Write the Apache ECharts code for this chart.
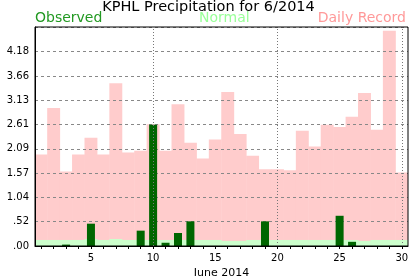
<!DOCTYPE html>
<html>
<head>
<meta charset="utf-8">
<script src="https://cdn.jsdelivr.net/npm/echarts@6/dist/echarts.min.js"></script>
<style>
html,body{margin:0;padding:0;background:#fff;}
#chart{width:417px;height:276px;}
</style>
</head>
<body>
<div id="chart"></div>
<script>
const days = Array.from({length: 30}, (_, i) => String(i + 1));
const observed = [0, 0, 0.03, 0, 0.48, 0, 0, 0, 0.33, 2.61, 0.07, 0.28, 0.53, 0, 0, 0, 0, 0, 0.53, 0, 0, 0, 0, 0, 0.65, 0.09, 0, 0, 0, 0];
const normal = [0.13, 0.13, 0.13, 0.13, 0.15, 0.13, 0.15, 0.13, 0.13, 0.13, 0.13, 0.13, 0.13, 0.13, 0.13, 0.11, 0.11, 0.13, 0.13, 0.13, 0.13, 0.13, 0.13, 0.13, 0.13, 0.13, 0.11, 0.13, 0.13, 0.13];
const record = [1.97, 2.97, 1.60, 1.97, 2.33, 1.97, 3.50, 2.01, 2.05, 2.62, 2.05, 3.05, 2.22, 1.88, 2.29, 3.31, 2.41, 1.94, 1.65, 1.65, 1.63, 2.48, 2.14, 2.61, 2.56, 2.78, 3.29, 2.50, 4.63, 1.58];
const yTickLabels = ['.00', '.52', '1.04', '1.57', '2.09', '2.61', '3.13', '3.66', '4.18'];
const yStep = 0.5225;
const yMax = 4.71;
const dottedDays = ['10', '20', '30'];
const xLabelEvery = 5;

const FONT = 'DejaVu Sans';
const chart = echarts.init(document.getElementById('chart'), null, {renderer: 'canvas'});
chart.setOption({
  animation: false,
  backgroundColor: '#fff',
  title: [
    {text: 'KPHL Precipitation for 6/2014', left: 'center', top: 0, padding: 0,
     textStyle: {fontFamily: FONT, fontSize: 14.5, fontWeight: 'normal', color: '#000'}},
    {text: 'Observed', left: 35, top: 11, padding: 0,
     textStyle: {fontFamily: FONT, fontSize: 14, fontWeight: 'normal', color: '#229922'}},
    {text: 'Normal', left: 199, top: 11, padding: 0,
     textStyle: {fontFamily: FONT, fontSize: 14, fontWeight: 'normal', color: '#99ff99'}},
    {text: 'Daily Record', right: 11, top: 11, padding: 0,
     textStyle: {fontFamily: FONT, fontSize: 14, fontWeight: 'normal', color: '#ff9999'}}
  ],
  grid: {left: 35, right: 9, top: 27, bottom: 30, show: true, borderColor: '#000', borderWidth: 1,
         backgroundColor: 'transparent', z: 4, containLabel: false, outerBoundsMode: 'none'},
  xAxis: [
    {type: 'category', data: days, boundaryGap: true, z: 3,
     axisLine: {lineStyle: {color: '#000', width: 1}},
     axisTick: {show: true, length: 3, interval: 0, alignWithLabel: true, lineStyle: {color: '#000'}},
     axisLabel: {interval: (i) => (i + 1) % xLabelEvery === 0, margin: 7, fontFamily: FONT, fontSize: 10, color: '#000'},
     name: 'June 2014', nameLocation: 'middle', nameGap: 13,
     nameTextStyle: {fontFamily: FONT, fontSize: 11, color: '#000'},
     splitLine: {show: false}},
    {type: 'category', data: days, boundaryGap: true, show: false}
  ],
  yAxis: {type: 'value', min: 0, max: yMax, interval: yStep, z: 2,
    axisLine: {show: true, lineStyle: {color: '#000'}},
    axisTick: {show: false},
    axisLabel: {margin: 6, fontFamily: FONT, fontSize: 10, color: '#000', showMaxLabel: false,
      formatter: (v) => {
        const i = Math.round(v / yStep);
        return Math.abs(v - i * yStep) < 1e-4 && i < yTickLabels.length ? yTickLabels[i] : '';
      }},
    splitLine: {show: true, lineStyle: {color: '#888', type: [3, 3], width: 1}}
  },
  series: [
    {name: 'Daily Record', type: 'bar', xAxisIndex: 0, data: record, barWidth: '104%', barGap: '-100%', z: 1,
     itemStyle: {color: '#ffcccc'}, silent: true},
    {name: 'Normal', type: 'bar', xAxisIndex: 0, data: normal, barWidth: '104%', barGap: '-100%', z: 1,
     itemStyle: {color: '#ccffcc'}, silent: true},
    {name: 'Observed', type: 'bar', xAxisIndex: 1, data: observed, barWidth: 8, z: 3,
     itemStyle: {color: '#006600'}, silent: true,
     markLine: {silent: true, symbol: ['none', 'none'], label: {show: false},
       lineStyle: {color: '#777', type: [1, 2], width: 1},
       data: dottedDays.map(d => ({xAxis: d}))}}
  ]
});
</script>
</body>
</html>
